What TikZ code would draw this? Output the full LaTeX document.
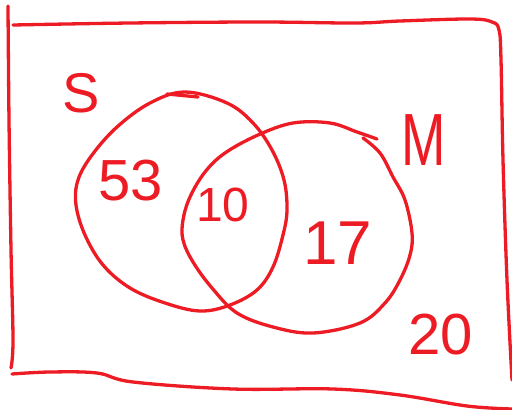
\documentclass[tikz,border=0pt]{standalone}
\usepackage{fontspec}
\setmainfont{Liberation Sans}
\definecolor{pen}{RGB}{237,28,36}
\begin{document}
\begin{tikzpicture}[x=1pt,y=-1pt,
  pen/.style={draw=pen, line width=3.3pt, line cap=round, line join=round},
  lbl/.style={text=pen, inner sep=0pt}]
\useasboundingbox (0,0) rectangle (512,410);
% frame
\draw[pen] plot[smooth, tension=0.6] coordinates {(8,6) (9,120) (11,250) (13,340) (11,368)};
\draw[pen] plot[smooth, tension=0.6] coordinates {(13,25) (130,23) (260,22) (355,23) (400,21) (470,19) (492,22) (499,30) (501,60) (503,160) (507,280) (512,380)};
\draw[pen] plot[smooth, tension=0.6] coordinates {(12,374) (50,372) (97,373) (133,382) (233,389) (333,389) (400,395) (467,406) (512,409)};
% circle S
\draw[pen] plot[smooth cycle, tension=0.6] coordinates {(185,92) (227,103) (253,123) (272,150) (284,180) (287,210) (283,235) (273,267) (257,290) (230,305) (200,311) (165,303) (130,288) (103,265) (85,235) (76,205) (78,180) (92,155) (117,127) (150,103)};
\draw[pen] (167,94) -- (198,97);
% circle M
\draw[pen] plot[smooth, tension=0.6] coordinates {(363,138) (380,153) (393,177) (405,200) (412,233) (410,255) (400,280) (385,303) (360,323) (313,333) (273,327) (237,313) (212,288) (193,262) (183,240) (183,220) (190,197) (205,172) (225,153) (258,135) (293,123) (330,123) (357,132) (377,139)};
% labels
\node[lbl, font=\fontsize{56}{56}\selectfont] (s) at (81,93) {S};
\node[lbl, font=\fontsize{74}{74}\selectfont] (m) at (424,140) {\scalebox{0.72}[1]{M}};
\node[lbl, font=\fontsize{58}{58}\selectfont] (n53) at (131,181) {53};
\node[lbl, font=\fontsize{48}{48}\selectfont] (n10) at (223,205) {10};
\node[lbl, font=\fontsize{62}{62}\selectfont] (n17) at (338,243) {17};
\node[lbl, font=\fontsize{58}{58}\selectfont] (n20) at (441,335) {20};
\end{tikzpicture}
\end{document}
